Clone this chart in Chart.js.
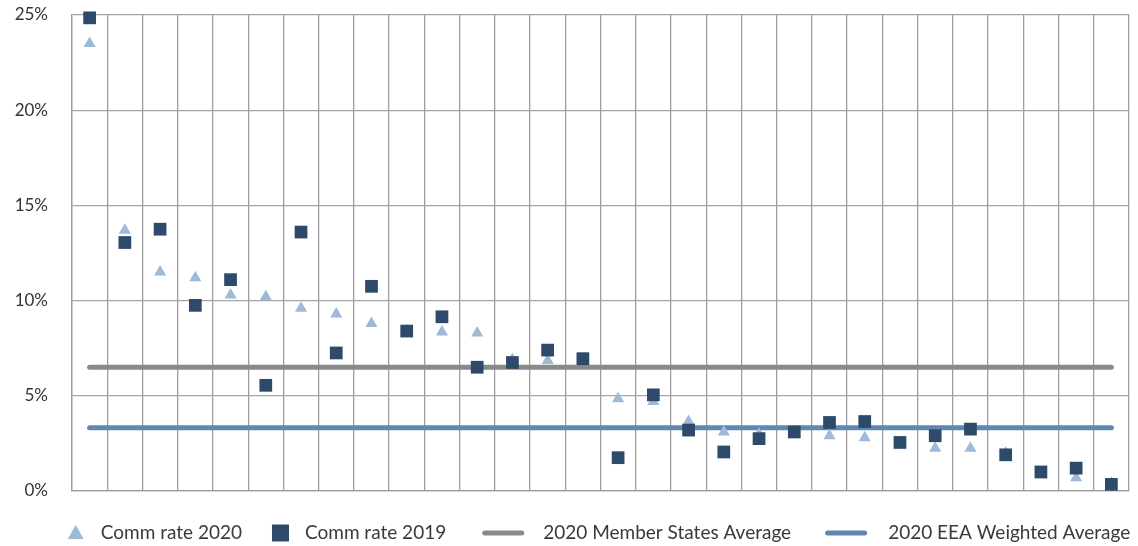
<!DOCTYPE html>
<html>
<head>
<meta charset="utf-8">
<script src="https://cdn.jsdelivr.net/npm/chart.js@4.4.1/dist/chart.umd.min.js"></script>
<style>
  html, body { margin: 0; padding: 0; background: #fff; }
  .wrap { width: 1138px; height: 546px; }
</style>
</head>
<body>
<div class="wrap"><canvas id="commChart"></canvas></div>
<script>
// categories (not labelled on the original chart)
const labels = ['1', '2', '3', '4', '5', '6', '7', '8', '9', '10',
                '11', '12', '13', '14', '15', '16', '17', '18', '19', '20',
                '21', '22', '23', '24', '25', '26', '27', '28', '29', '30'];

const rate2020 = [23.5, 13.7, 11.5, 11.2, 10.3, 10.2, 9.6, 9.3, 8.8, 8.4,
                  8.35, 8.3, 6.9, 6.85, 6.9, 4.85, 4.7, 3.65, 3.1, 3.0,
                  3.1, 2.9, 2.8, 2.5, 2.25, 2.25, 2.0, 0.85, 0.7, 0.4];
const rate2019 = [24.85, 13.05, 13.75, 9.75, 11.1, 5.55, 13.6, 7.25, 10.75, 8.4,
                  9.15, 6.5, 6.75, 7.4, 6.95, 1.75, 5.05, 3.2, 2.05, 2.75,
                  3.1, 3.6, 3.65, 2.55, 2.9, 3.25, 1.9, 1.0, 1.2, 0.35];
const msAverage = 6.5;
const eeaAverage = 3.32;

const yTicks = [0, 5, 10, 15, 20, 25];

const FONT = 'Lato, "Open Sans", sans-serif';

// legend drawn by hand so the spacing follows the original
const bottomLegend = {
  id: 'bottomLegend',
  afterDraw(chart) {
    const ctx = chart.ctx;
    const y = 533;
    const items = [
      { text: chart.data.datasets[0].label, kind: 'triangle', color: chart.data.datasets[0].backgroundColor, w: 16, gap: 17 },
      { text: chart.data.datasets[1].label, kind: 'rect', color: chart.data.datasets[1].backgroundColor, w: 17, gap: 16 },
      { text: chart.data.datasets[2].label, kind: 'line', color: chart.data.datasets[2].borderColor, w: 42, gap: 19 },
      { text: chart.data.datasets[3].label, kind: 'line', color: chart.data.datasets[3].borderColor, w: 42, gap: 21 }
    ];
    const between = [30, 36, 34];
    ctx.save();
    ctx.font = '19px ' + FONT;
    ctx.textBaseline = 'middle';
    let total = 0;
    items.forEach((it, i) => {
      it.tw = ctx.measureText(it.text).width;
      total += it.w + it.gap + it.tw + (i < 3 ? between[i] : 0);
    });
    let x = 599 - total / 2;
    items.forEach((it, i) => {
      ctx.fillStyle = it.color;
      ctx.strokeStyle = it.color;
      if (it.kind === 'triangle') {
        ctx.beginPath();
        ctx.moveTo(x, y + 6);
        ctx.lineTo(x + it.w, y + 6);
        ctx.lineTo(x + it.w / 2, y - 8);
        ctx.closePath();
        ctx.fill();
      } else if (it.kind === 'rect') {
        ctx.fillRect(x, y - 8.5, it.w, 17);
      } else {
        ctx.lineWidth = 5;
        ctx.lineCap = 'round';
        ctx.beginPath();
        ctx.moveTo(x + 2.5, y);
        ctx.lineTo(x + it.w - 2.5, y);
        ctx.stroke();
      }
      x += it.w + it.gap;
      ctx.fillStyle = '#3a3a3a';
      ctx.fillText(it.text, x, y);
      x += it.tw + (i < 3 ? between[i] : 0);
    });
    ctx.restore();
  }
};

const ctxEl = document.getElementById('commChart');

new Chart(ctxEl, {
  type: 'line',
  data: {
    labels: labels,
    datasets: [{
      label: 'Comm rate 2020',
      data: rate2020,
      showLine: false,
      pointStyle: 'triangle',
      pointRadius: 7,
      pointHoverRadius: 7,
      backgroundColor: '#9fb9d8',
      borderColor: '#9fb9d8',
      pointBorderWidth: 0,
      order: 1
    }, {
      label: 'Comm rate 2019',
      data: rate2019,
      showLine: false,
      pointStyle: 'rect',
      pointRadius: 9,
      pointHoverRadius: 9,
      backgroundColor: '#2d4a6b',
      borderColor: '#2d4a6b',
      pointBorderWidth: 0,
      order: 0
    }, {
      label: '2020 Member States Average',
      data: [{ x: labels[0], y: msAverage }, { x: labels[labels.length - 1], y: msAverage }],
      borderColor: '#8a8a8a',
      backgroundColor: '#8a8a8a',
      borderWidth: 5,
      borderCapStyle: 'round',
      pointRadius: 0,
      order: 2
    }, {
      label: '2020 EEA Weighted Average',
      data: [{ x: labels[0], y: eeaAverage }, { x: labels[labels.length - 1], y: eeaAverage }],
      borderColor: '#5f87b4',
      backgroundColor: '#5f87b4',
      borderWidth: 5,
      borderCapStyle: 'round',
      pointRadius: 0,
      order: 3
    }]
  },
  options: {
    responsive: true,
    maintainAspectRatio: false,
    animation: false,
    clip: false,
    layout: {
      padding: { top: 15, right: 7, bottom: 55, left: 0 }
    },
    plugins: {
      legend: { display: false },
      tooltip: { enabled: false }
    },
    scales: {
      x: {
        offset: true,
        grid: {
          offset: true,
          color: '#9e9e9e',
          lineWidth: 1.3,
          drawTicks: false
        },
        border: { color: '#9e9e9e', width: 1.3 },
        ticks: { display: false }
      },
      y: {
        min: 0,
        max: 25,
        afterBuildTicks: (scale) => {
          scale.ticks = yTicks.map(v => ({ value: v }));
        },
        afterFit: (scale) => {
          scale.width = 72;
          scale.paddingTop = 0;
          scale.paddingBottom = 0;
        },
        grid: {
          color: '#a6a6a6',
          lineWidth: 1.3,
          drawTicks: false
        },
        border: { color: '#9e9e9e', width: 1.3 },
        ticks: {
          padding: 24,
          color: '#333',
          font: { family: FONT, size: 17 },
          callback: (v) => v + '%'
        }
      }
    }
  },
  plugins: [bottomLegend]
});
</script>
</body>
</html>
